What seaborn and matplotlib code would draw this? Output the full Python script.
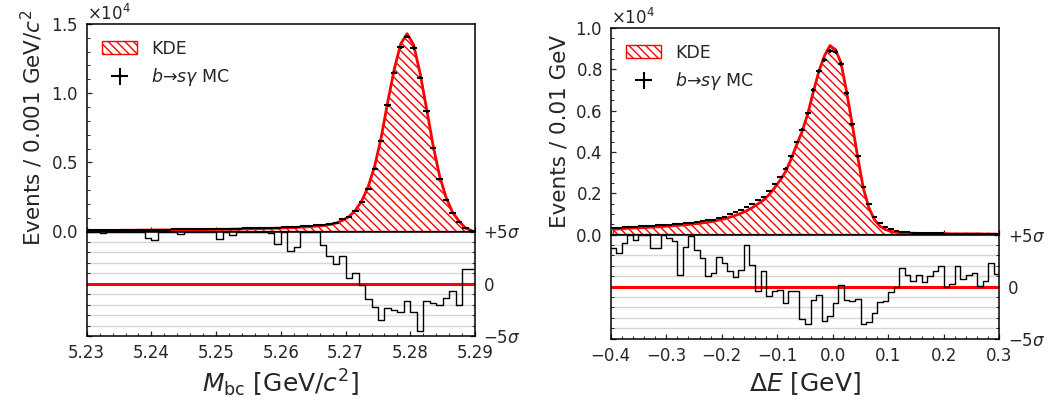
import numpy as np
import matplotlib
matplotlib.use("Agg")
import matplotlib.pyplot as plt
from matplotlib.ticker import AutoMinorLocator, MultipleLocator
import seaborn as sns

# ---------------------------------------------------------------
# M_bc spectrum: 60 bins of 0.001 GeV/c^2 between 5.23 and 5.29
# ---------------------------------------------------------------
mbc_range = (5.23, 5.29)
mbc_binwidth = 0.001
mbc_counts = [
    100, 100, 110, 110, 110, 120, 120, 120, 130, 130,
    130, 140, 140, 150, 150, 160, 160, 170, 170, 180,
    190, 190, 200, 210, 220, 230, 240, 250, 270, 280,
    300, 320, 340, 370, 400, 440, 480, 550, 640, 890,
    1080, 1510, 2150, 3090, 4550, 6530, 9110, 11480, 13320, 14090,
    13270, 11110, 8690, 6020, 3820, 2310, 1350, 710, 280, 60,
]
mbc_kde = [
    70, 70, 80, 80, 80, 90, 90, 90, 100, 100,
    110, 110, 110, 120, 120, 130, 130, 140, 140, 150,
    160, 160, 170, 180, 190, 200, 210, 220, 230, 240,
    260, 280, 300, 320, 350, 390, 430, 500, 600, 800,
    1070, 1520, 2220, 3250, 4750, 6800, 9350, 11700, 13550, 14300,
    13500, 11450, 8900, 6250, 4050, 2480, 1400, 760, 260, 50,
]
mbc_pull = [
    5.0, 5.0, 4.9, 5.0, 5.0, 5.0, 5.0, 5.0, 5.0, 4.4,
    4.2, 5.0, 5.0, 5.0, 4.8, 5.0, 5.0, 5.0, 5.0, 5.0,
    4.3, 5.0, 4.7, 5.0, 5.0, 5.0, 5.0, 5.0, 4.9, 3.8,
    5.0, 3.1, 3.55, 5.0, 5.0, 5.0, 3.7, 2.7, 1.9, 2.65,
    0.55, 1.0, -0.15, -1.5, -2.25, -3.5, -2.3, -2.55, -2.7, -1.65,
    -2.7, -4.55, -1.65, -1.85, -2.05, -1.35, -0.7, -2.0, 1.37, 1.37,
]

# ---------------------------------------------------------------
# Delta E spectrum: 70 bins of 0.01 GeV between -0.4 and 0.3
# ---------------------------------------------------------------
de_range = (-0.4, 0.3)
de_binwidth = 0.01
de_counts = [
    300, 330, 350, 370, 380, 400, 410, 430, 440, 460,
    480, 500, 530, 550, 580, 610, 640, 680, 720, 790,
    870, 1000, 1080, 1170, 1330, 1460, 1650, 1810, 2100, 2430,
    2780, 3190, 3790, 4480, 5080, 5860, 6990, 7930, 8450, 8900,
    8850, 8250, 6860, 5340, 3790, 2300, 1460, 870, 550, 350,
    250, 180, 140, 110, 90, 80, 70, 60, 50, 50,
    40, 40, 30, 30, 30, 30, 20, 20, 20, 20,
]
de_kde = [
    250, 270, 290, 310, 320, 330, 340, 360, 370, 390,
    410, 430, 450, 470, 500, 530, 560, 600, 640, 700,
    760, 840, 930, 1030, 1150, 1300, 1480, 1660, 1920, 2250,
    2620, 3040, 3650, 4350, 5000, 5850, 6900, 7900, 8650, 9150,
    8950, 8300, 6900, 5350, 3750, 2250, 1300, 720, 400, 240,
    150, 100, 80, 70, 60, 50, 50, 40, 40, 40,
    40, 30, 30, 30, 30, 30, 30, 20, 20, 20,
]
de_pull = [
    3.7, 3.25, 4.2, 5.0, 4.45, 5.0, 5.0, 3.7, 3.7, 5.0,
    4.7, 4.4, 1.15, 3.8, 4.9, 3.5, 2.75, 1.0, 1.3, 2.8,
    2.25, 1.45, 0.9, 1.6, 4.0, 2.1, -0.45, 1.45, -0.9, -0.4,
    -0.35, -1.6, -0.45, -0.4, -3.1, -3.6, -1.3, -0.85, -3.3, -2.8,
    -1.6, 0.15, -1.3, -1.35, -1.2, -3.6, -3.45, -2.5, -1.45, -1.35,
    -0.5, -0.05, 1.8, 1.15, 0.55, 1.15, 0.4, 1.0, 1.45, 2.0,
    -0.05, 0.25, 2.0, 0.75, 1.15, 1.3, 0.05, 0.55, 2.25, 1.25,
]

sns.set_theme(style="ticks")
plt.rcParams.update({
    "font.family": ["DejaVu Sans"],
    "mathtext.fontset": "dejavusans",
    "axes.edgecolor": "black",
    "axes.linewidth": 1.1,
    "xtick.direction": "in",
    "ytick.direction": "in",
    "xtick.major.size": 3.5,
    "ytick.major.size": 3.5,
    "xtick.minor.size": 2.0,
    "ytick.minor.size": 2.0,
    "xtick.major.width": 0.9,
    "ytick.major.width": 0.9,
    "xtick.minor.width": 0.7,
    "ytick.minor.width": 0.7,
    "hatch.color": "red",
    "hatch.linewidth": 1.0,
})

fig = plt.figure(figsize=(10.52, 4.0), dpi=100)


def draw_panel(main_rect, pull_rect, xrange_, binwidth, counts, kde, pull,
               ymax, ymajor, xmajor, xlabel, ylabel):
    ax = fig.add_axes(main_rect)
    axp = fig.add_axes(pull_rect, sharex=ax)

    counts = np.asarray(counts, dtype=float)
    kde = np.asarray(kde, dtype=float)
    pull = np.asarray(pull, dtype=float)
    centers = xrange_[0] + binwidth * (np.arange(len(counts)) + 0.5)
    edges = xrange_[0] + binwidth * np.arange(len(pull) + 1)

    # KDE template: hatched area plus solid outline
    fill = ax.fill_between(centers, 0, kde, facecolor="white", edgecolor="red",
                           hatch="\\\\\\\\", linewidth=1.0, zorder=1)
    sns.lineplot(x=centers, y=kde, ax=ax, color="red", lw=2.0, zorder=2)

    # MC histogram as points with bin-width and Poisson error bars
    eb = ax.errorbar(centers, counts, xerr=binwidth / 2, yerr=np.sqrt(counts),
                     fmt="none", ecolor="black", elinewidth=1.5, capsize=0,
                     zorder=3)

    ax.set_xlim(*xrange_)
    ax.set_ylim(0, ymax)
    ax.xaxis.set_major_locator(MultipleLocator(xmajor))
    ax.xaxis.set_minor_locator(AutoMinorLocator())
    ax.yaxis.set_major_locator(MultipleLocator(ymajor))
    ax.yaxis.set_minor_locator(AutoMinorLocator())
    ax.ticklabel_format(axis="y", style="sci", scilimits=(4, 4), useMathText=True)
    ax.yaxis.get_offset_text().set_fontsize(12)
    ax.tick_params(axis="x", which="both", bottom=True, top=False,
                   labelbottom=False)
    ax.tick_params(axis="y", which="both", left=True, right=False,
                   labelsize=12, pad=6)
    ax.set_xlabel("")
    ax.set_ylabel(ylabel, fontsize=15.5)

    ax.legend([fill, eb], ["KDE", r"$b$→$s\gamma$ MC"], loc="upper left",
              frameon=False, fontsize=12.5)

    # pull panel
    axp.set_ylim(-5, 5)
    axp.set_yticks([-5, 0, 5])
    axp.set_yticklabels([r"$-5\sigma$", "0", r"$+5\sigma$"])
    axp.yaxis.set_minor_locator(MultipleLocator(1))
    axp.grid(axis="y", which="both", color="#d6d6d6", lw=1.0)
    axp.set_axisbelow(True)
    axp.axhline(0, color="red", lw=2.2, zorder=2)
    sns.lineplot(x=edges, y=np.append(pull, pull[-1]), drawstyle="steps-post",
                 color="black", lw=1.0, ax=axp, zorder=3)
    axp.set_xlim(*xrange_)
    axp.ticklabel_format(axis="x", useOffset=False)
    axp.tick_params(axis="y", which="both", left=True, right=True,
                    labelleft=False, labelright=True, labelsize=12, pad=6)
    axp.tick_params(axis="x", which="both", bottom=True, top=False,
                    labelsize=12, pad=6)
    axp.set_ylabel("")
    axp.set_xlabel(xlabel, fontsize=18)
    return ax, axp


draw_panel([0.0824, 0.42125, 0.3692, 0.51875], [0.0824, 0.16, 0.3692, 0.26125],
           mbc_range, mbc_binwidth, mbc_counts, mbc_kde, mbc_pull,
           ymax=1.5e4, ymajor=0.5e4, xmajor=0.01,
           xlabel=r"$M_{\rm bc}$ [GeV/$c^2$]",
           ylabel=r"Events / 0.001 GeV/$c^2$")

draw_panel([0.5805, 0.41375, 0.3694, 0.51625], [0.5805, 0.15375, 0.3694, 0.26],
           de_range, de_binwidth, de_counts, de_kde, de_pull,
           ymax=1.0e4, ymajor=0.2e4, xmajor=0.1,
           xlabel=r"$\Delta E$ [GeV]",
           ylabel="Events / 0.01 GeV")

fig.savefig("out.png", dpi=100)
